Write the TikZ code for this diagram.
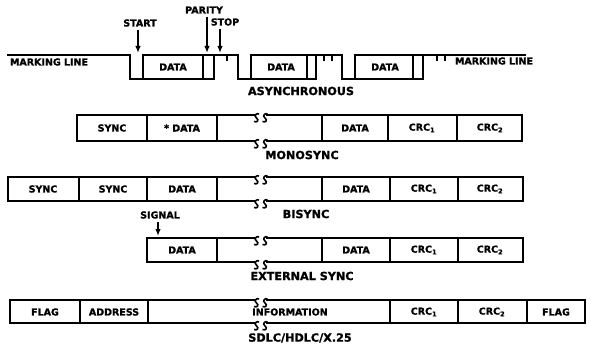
\documentclass[tikz,border=0pt]{standalone}
\usepackage{fontspec}
\setmainfont{DejaVu Sans}[BoldFeatures={FakeBold=1.2}]
\usetikzlibrary{arrows.meta}
\tikzset{
  wire/.style={line width=2pt, line cap=rect},
  divl/.style={line width=1.5pt},
  tickl/.style={line width=1.4pt},
  lbl/.style={font=\bfseries\fontsize{9.5}{10}\selectfont, inner sep=0pt},
  ttl/.style={font=\bfseries\fontsize{11.2}{12}\selectfont, inner sep=0pt},
  ptr/.style={line width=1.6pt, -{Latex[length=7pt,width=5.5pt]}},
  brk/.pic={
    \draw[line width=1.6pt] (-2,-1) .. controls (-4.5,-2.5) and (-7.5,1) .. (-4.5,3)
      .. controls (-1.5,5) and (-4,8) .. (-7,6.5);
    \draw[line width=1.6pt] (6.5,-1) .. controls (4,-2.5) and (1,1) .. (4,3)
      .. controls (7,5) and (4.5,8) .. (1.5,6.5);
  }
}
\begin{document}
\begin{tikzpicture}[x=1pt,y=-1pt]
\useasboundingbox (0,0) rectangle (591,350);

% ---------------- ASYNCHRONOUS ----------------
\draw[wire] (8,55) -- (130,55) -- (130,79) -- (214,79);
\draw[wire] (143,79) -- (143,55) -- (238,55) -- (238,79) -- (316,79);
\draw[divl] (203,55) -- (203,79) (214,55) -- (214,79);
\draw[tickl] (227,55) -- (227,61);
\draw[wire] (251,79) -- (251,55) -- (342,55) -- (342,79) -- (423,79);
\draw[divl] (307,55) -- (307,79) (316,55) -- (316,79);
\draw[tickl] (324,55) -- (324,61) (332,55) -- (332,61);
\draw[wire] (355,79) -- (355,55) -- (525,55);
\draw[divl] (413,55) -- (413,79) (423,55) -- (423,79);
\draw[tickl] (437,55) -- (437,61) (445,55) -- (445,61);

\node[lbl] (mlL) at (49,62) {MARKING LINE};
\node[lbl] (mlR) at (494,61) {MARKING LINE};
\node[lbl] (ad1) at (173,67) {DATA};
\node[lbl] (ad2) at (281,67) {DATA};
\node[lbl] (ad3) at (385,67) {DATA};
\node[ttl] (async) at (301,91) {ASYNCHRONOUS};

\node[lbl] (start) at (140,23) {START};
\node[lbl] (parity) at (204,10) {PARITY};
\node[lbl] (stop) at (225,22) {STOP};
\coordinate (sp) at (138,53);
\coordinate (pp) at (207,53);
\coordinate (tp) at (220,53);
\draw[ptr] ([yshift=-3pt]start.south -| sp) -- (sp);
\draw[ptr] ([yshift=-3pt]parity.south -| pp) -- (pp);
\draw[ptr] ([yshift=-3pt]stop.south -| tp) -- (tp);

% ---------------- MONOSYNC ----------------
\draw[wire] (255,115) -- (77,115) -- (77,141) -- (255,141);
\draw[wire] (267,115) -- (522,115) -- (522,141) -- (267,141);
\draw[divl] (147,115) -- (147,141) (217,115) -- (217,141) (322,115) -- (322,141)
  (388,115) -- (388,141) (457,115) -- (457,141);
\pic at (261,115) {brk};
\pic at (261,141) {brk};
\node[lbl] (m1) at (112,128) {SYNC};
\node[lbl] (m2) at (182,128) {* DATA};
\node[lbl] (m3) at (355,128) {DATA};
\node[lbl] (m4) at (422,128) {CRC\textsubscript{1}};
\node[lbl] (m5) at (490,128) {CRC\textsubscript{2}};
\node[ttl] (mono) at (302,155) {MONOSYNC};

% ---------------- BISYNC ----------------
\draw[wire] (255,177) -- (8,177) -- (8,201) -- (255,201);
\draw[wire] (267,177) -- (523,177) -- (523,201) -- (267,201);
\draw[divl] (79,177) -- (79,201) (147,177) -- (147,201) (217,177) -- (217,201)
  (322,177) -- (322,201) (390,177) -- (390,201) (458,177) -- (458,201);
\pic at (261,177) {brk};
\pic at (261,201) {brk};
\node[lbl] (b1) at (43,189) {SYNC};
\node[lbl] (b2) at (113,189) {SYNC};
\node[lbl] (b3) at (182,189) {DATA};
\node[lbl] (b4) at (356,189) {DATA};
\node[lbl] (b5) at (424,189) {CRC\textsubscript{1}};
\node[lbl] (b6) at (490,189) {CRC\textsubscript{2}};
\node[ttl] (bisync) at (306,214) {BISYNC};

% ---------------- EXTERNAL SYNC ----------------
\node[lbl] (signal) at (160,215) {SIGNAL};
\coordinate (sg) at (158,236);
\draw[ptr] ([yshift=-3pt]signal.south -| sg) -- (sg);
\draw[wire] (255,238) -- (147,238) -- (147,262) -- (255,262);
\draw[wire] (267,238) -- (523,238) -- (523,262) -- (267,262);
\draw[divl] (217,238) -- (217,262) (322,238) -- (322,262) (390,238) -- (390,262)
  (458,238) -- (458,262);
\pic at (261,238) {brk};
\pic at (261,262) {brk};
\node[lbl] (e1) at (182,250) {DATA};
\node[lbl] (e2) at (356,250) {DATA};
\node[lbl] (e3) at (424,250) {CRC\textsubscript{1}};
\node[lbl] (e4) at (490,250) {CRC\textsubscript{2}};
\node[ttl] (ext) at (302,276) {EXTERNAL SYNC};

% ---------------- SDLC ----------------
\draw[wire] (255,300) -- (10,300) -- (10,323) -- (255,323);
\draw[wire] (267,300) -- (585,300) -- (585,323) -- (267,323);
\draw[divl] (80,300) -- (80,323) (148,300) -- (148,323) (390,300) -- (390,323)
  (458,300) -- (458,323) (527,300) -- (527,323);
\pic at (261,300) {brk};
\pic at (261,323) {brk};
\node[lbl] (s1) at (45,312) {FLAG};
\node[lbl] (s2) at (114,312) {ADDRESS};
\node[lbl] (s3) at (290,312) {INFORMATION};
\node[lbl] (s4) at (424,312) {CRC\textsubscript{1}};
\node[lbl] (s5) at (492,312) {CRC\textsubscript{2}};
\node[lbl] (s6) at (556,312) {FLAG};
\node[ttl] (sdlc) at (300,338) {SDLC/HDLC/X.25};
\end{tikzpicture}
\end{document}
